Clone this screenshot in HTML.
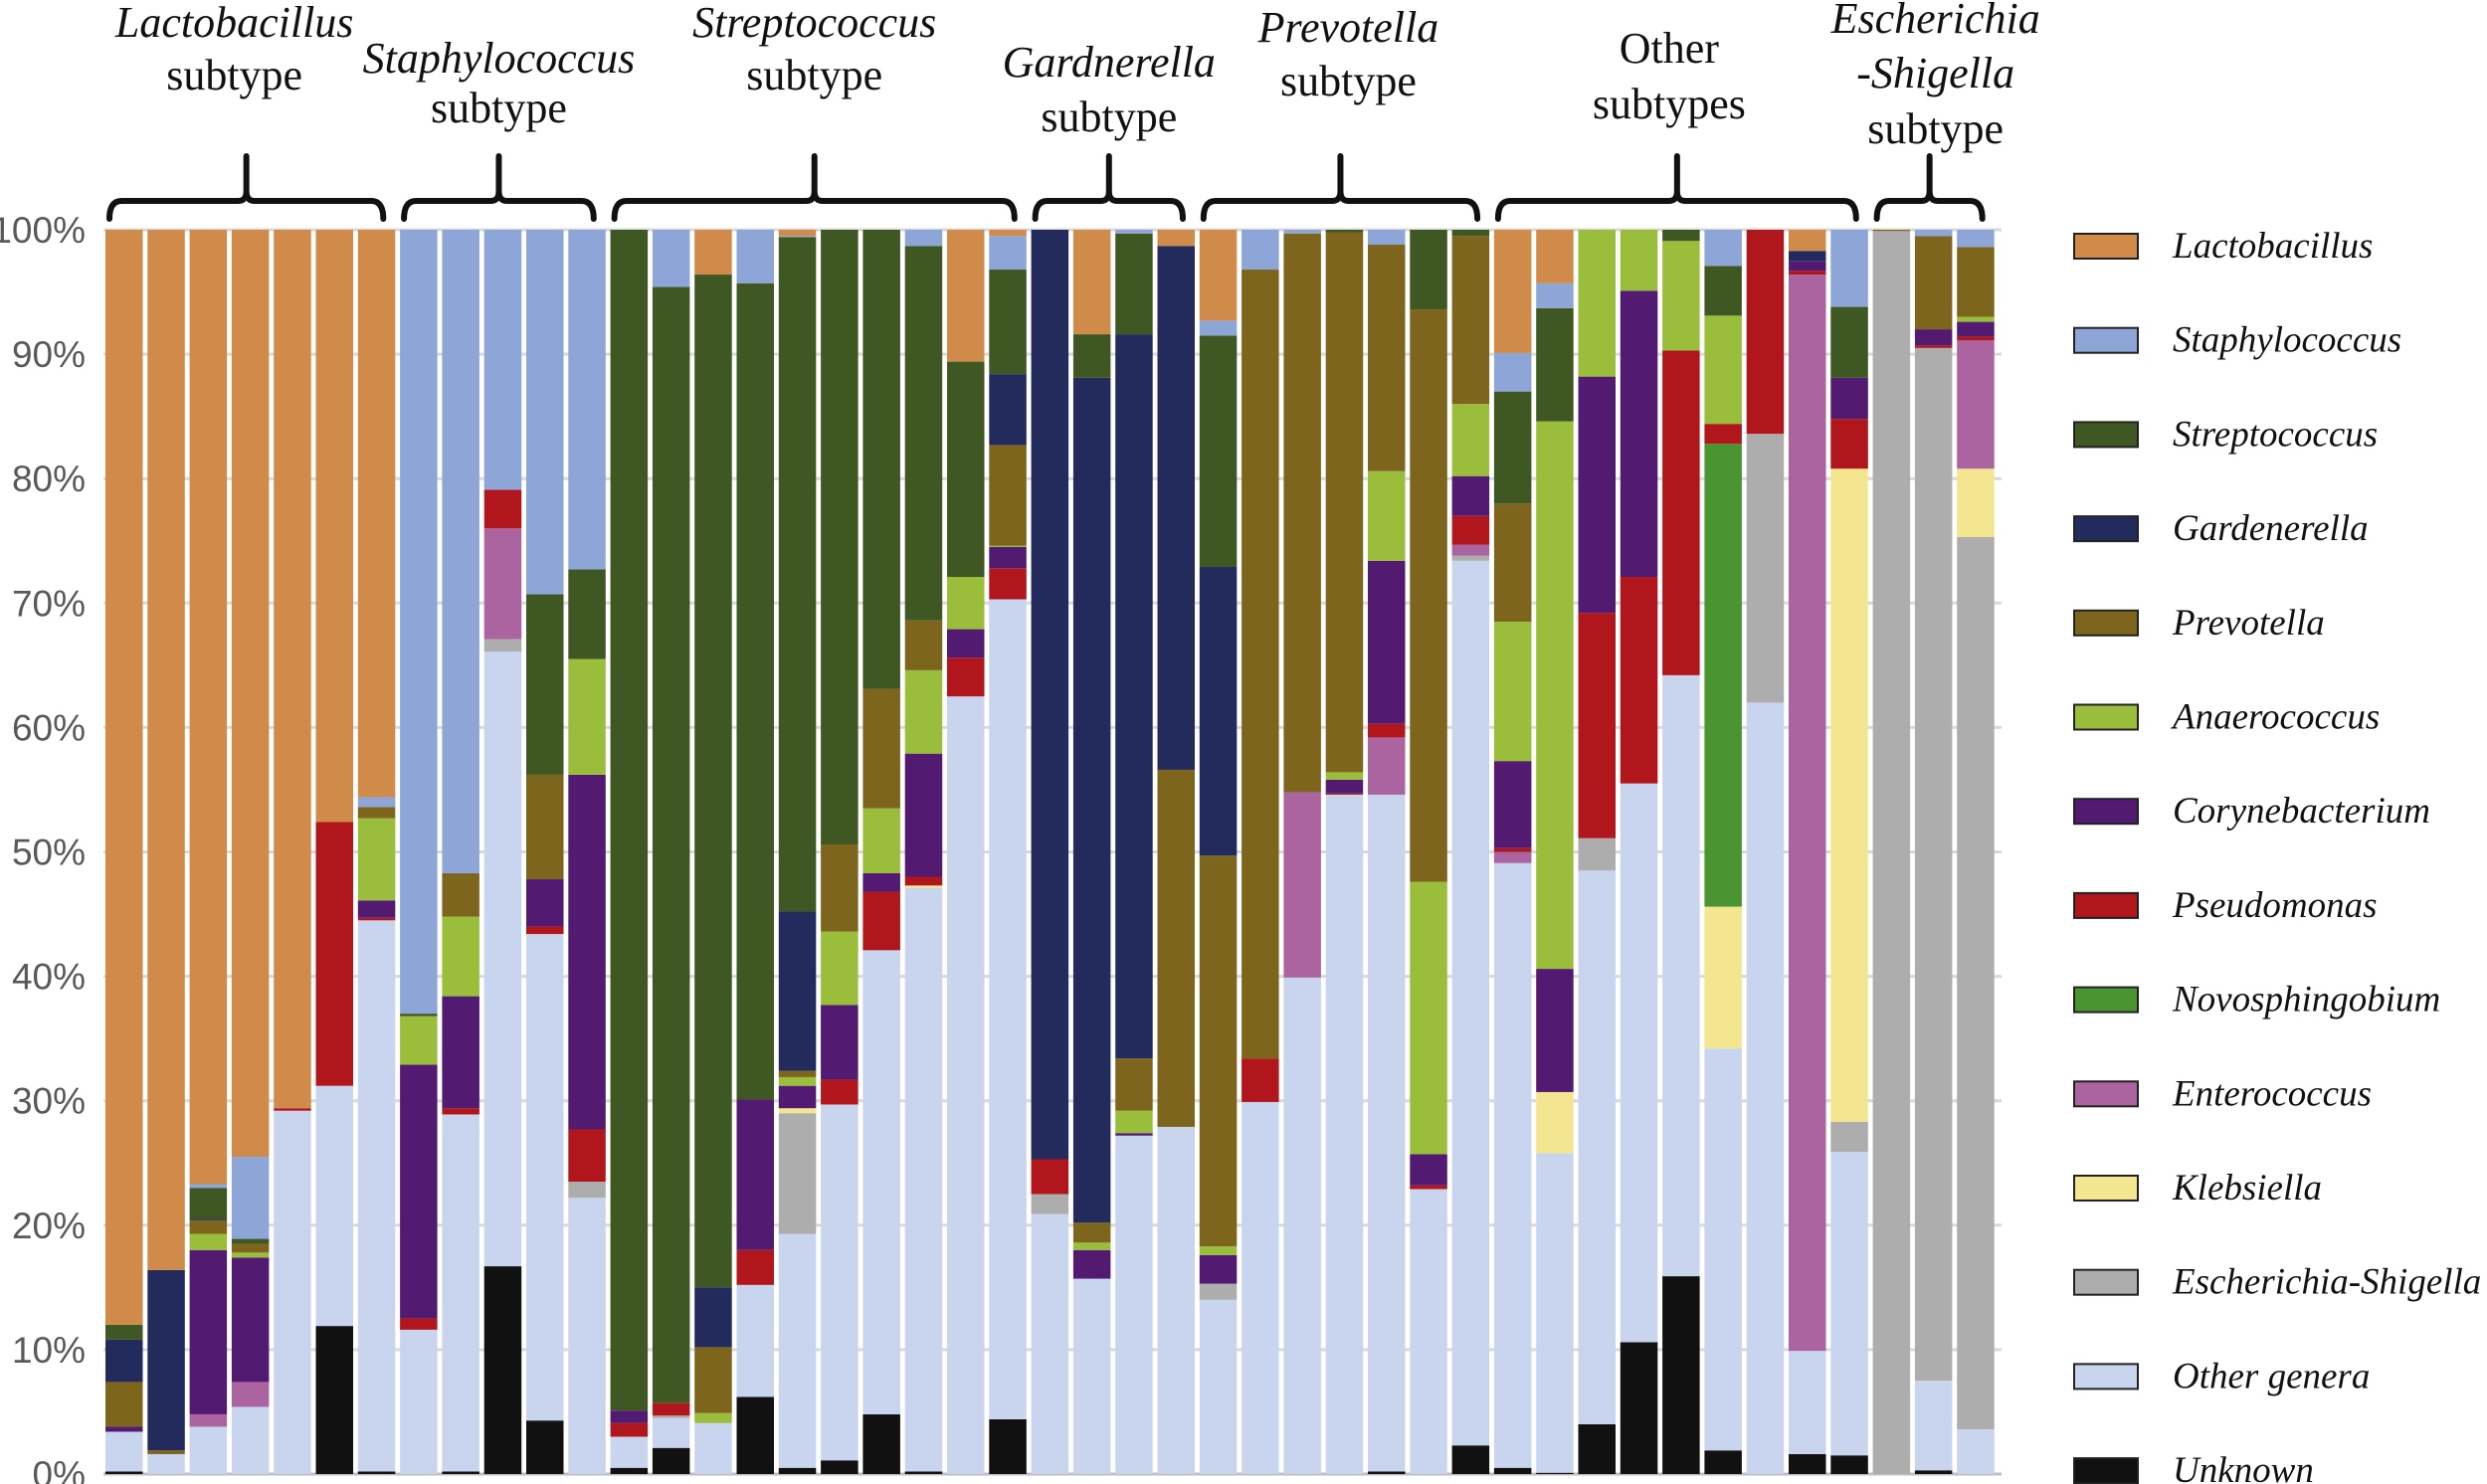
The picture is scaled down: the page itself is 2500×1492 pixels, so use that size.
<!DOCTYPE html>
<html><head><meta charset="utf-8"><style>
html,body{margin:0;padding:0;background:#fff;}
svg{display:block;}
</style></head><body>
<svg id="chart" width="2500" height="1492" xmlns="http://www.w3.org/2000/svg">
<g id="grid"></g>
<g id="yaxis"></g>
<g id="bars"></g>
<g id="groups"></g>
<g id="legend"></g>
</svg>
<script>
const unknownVals=[0.2,0,0,0,0,11.9,0.2,0,0.2,16.7,4.3,0,0.5,2.1,0,6.2,0.5,1.1,4.8,0.2,0,4.4,0,0,0,0,0,0,0,0,0.2,0,2.3,0.5,0.1,4.0,10.6,15.9,1.9,0,1.6,1.5,0,0.3,0];
const otherVals=[3.2,1.6,3.8,5.4,29.2,19.3,44.3,11.6,28.7,49.4,39.1,22.2,2.5,2.4,4.1,9.0,18.8,28.6,37.3,46.9,62.5,65.9,20.9,15.7,27.2,27.9,14.0,29.9,39.9,54.6,54.4,22.9,71.1,48.6,25.7,44.5,44.9,48.3,32.3,62.0,8.3,24.4,0,7.2,3.6];
const eschVals=[0,0,0,0,0,0,0,0,0,1.0,0,1.3,0,0.2,0,0,9.7,0,0,0,0,0,1.6,0,0,0,1.3,0,0,0,0,0,0.4,0,0,2.6,0,0,0,21.6,0,2.4,99.9,83.0,71.7];
const klebVals=[0,0,0,0,0,0,0,0,0,0,0,0,0,0,0,0,0.4,0,0,0.2,0,0,0,0,0,0,0,0,0,0,0,0,0,0,4.9,0,0,0,11.4,0,0,52.5,0,0,5.5];
const enteroVals=[0,0,1.0,2.0,0,0,0,0,0,8.9,0,0,0,0,0,0,0,0,0,0,0,0,0,0,0,0,0,0,14.9,0,4.6,0,0.9,0.9,0,0,0,0,0,0,86.5,0,0,0,10.3];
const novoVals=[0,0,0,0,0,0,0,0,0,0,0,0,0,0,0,0,0,0,0,0,0,0,0,0,0,0,0,0,0,0,0,0,0,0,0,0,0,0,37.2,0,0,0,0,0,0];
const pseudoVals=[0,0,0,0,0.2,21.2,0.2,0.9,0.5,3.1,0.6,4.2,1.1,1.0,0,2.8,0,2.0,4.7,0.7,3.1,2.5,2.8,0,0,0,0,3.5,0,0.1,1.1,0.3,2.3,0.3,0,18.1,16.6,26.1,1.6,16.4,0.3,4.0,0,0.2,0.3];
const corynVals=[0.4,0,13.2,10.0,0,0,1.4,20.4,9.0,0,3.8,28.5,1.0,0,0,12.1,1.8,6.0,1.5,9.9,2.3,1.7,0,2.3,0.2,0,2.3,0,0,1.1,13.1,2.5,3.2,7.0,9.9,19.0,23.0,0,0,0,0.8,3.3,0,1.3,1.2];
const anaeroVals=[0,0,1.3,0.4,0,0,6.6,3.9,6.4,0,0,9.3,0,0,0.8,0,0.7,5.9,5.2,6.7,4.2,0.1,0,0.6,1.8,0,0.7,0,0,0.6,7.2,21.9,5.8,11.2,44.0,11.8,4.9,8.8,8.7,0,0,0,0,0,0.4];
const prevVals=[3.6,0.3,1.1,0.7,0,0,0.9,0,3.5,0,8.4,0,0,0,5.3,0,0.5,7.0,9.6,4.0,0,8.1,0,1.6,4.2,28.7,31.4,63.4,44.9,43.4,18.2,46.0,13.5,9.5,0,0,0,0,0,0,0,0,0.1,7.5,5.6];
const gardVals=[3.4,14.5,0.1,0,0,0,0,0,0,0,0,0,0,0,4.8,0,12.8,0,0,0,0,5.7,74.7,67.9,58.2,42.1,23.2,0,0,0,0,0,0,0,0,0,0,0,0,0,0.8,0,0,0,0];
const strepVals=[1.2,0,2.5,0.4,0,0,0,0.2,0,0,14.5,7.2,94.9,89.7,81.4,65.6,54.2,49.4,36.9,30.1,17.3,8.4,0,3.5,8.1,0,18.6,0,0,0.2,0,6.4,0.5,9.0,9.1,0,0,0.9,4.0,0,0,5.7,0,0,0];
const staphVals=[0,0,0.3,6.6,0,0,0.8,63.0,51.7,20.9,29.3,27.3,0,4.6,0,4.3,0.1,0,0,1.3,0,2.7,0,0,0.3,0,1.2,3.2,0.3,0,1.2,0,0,3.1,2.0,0,0,0,2.9,0,0,6.2,0,0.5,1.4];
const lactoVals=[88.0,83.6,76.7,74.5,70.6,47.6,45.6,0,0,0,0,0,0,0,3.6,0,0.5,0,0,0,10.6,0.5,0,8.4,0,1.3,7.3,0,0,0,0,0,0,9.9,4.3,0,0,0,0,0,1.7,0,0,0,0];
const seriesNames=["Unknown","Other genera","Escherichia-Shigella","Klebsiella","Enterococcus","Novosphingobium","Pseudomonas","Corynebacterium","Anaerococcus","Prevotella","Gardenerella","Streptococcus","Staphylococcus","Lactobacillus"];
const seriesColors=["#111111","#C9D5EE","#ADADAD","#F4E590","#AC64A0","#4B9432","#B0161B","#521A71","#9BBD3C","#7E651E","#232A5C","#3F5722","#8EA5D8","#D08B4A"];
const seriesData=[unknownVals,otherVals,eschVals,klebVals,enteroVals,novoVals,pseudoVals,corynVals,anaeroVals,prevVals,gardVals,strepVals,staphVals,lactoVals];
const yTicks=[0,10,20,30,40,50,60,70,80,90,100];
const groupLabels=[["Lactobacillus","subtype"],["Staphylococcus","subtype"],["Streptococcus","subtype"],["Gardnerella","subtype"],["Prevotella","subtype"],["Other","subtypes"],["Escherichia","-Shigella","subtype"]];
const groupSizes=[7,5,10,4,7,9,3];
const groupItalic=[[1,0],[1,0],[1,0],[1,0],[1,0],[0,0],[1,1,0]];

const NS="http://www.w3.org/2000/svg";
const X0=106, PITCH=42.3, BW=37.5, Y0=1482, Y100=231, PLOT_R=2012;
function yScale(v){return Y0-(Y0-Y100)*v/100;}
function xScale(i){return X0+i*PITCH;}
function mk(tag,attrs,parent){const e=document.createElementNS(NS,tag);for(const k in attrs)e.setAttribute(k,attrs[k]);parent.appendChild(e);return e;}

const grid=document.getElementById('grid'), yaxis=document.getElementById('yaxis');
yTicks.forEach(t=>{
  const l=mk('line',{x1:104,x2:PLOT_R,y1:yScale(t),y2:yScale(t),stroke:t===0?'#bfbfbf':'#d9d9d9','stroke-width':3},grid);
  
  
  const tx=mk('text',{x:86,y:yScale(t)+13,'text-anchor':'end','font-family':'Liberation Sans, sans-serif','font-size':37,fill:'#595959'},yaxis);
  tx.textContent=t+'%';
  
  
});

const bars=document.getElementById('bars');
const nBars=otherVals.length;
for(let i=0;i<nBars;i++){
  const g=mk('g',{},bars);
  
  
  let cum=0;
  for(let s=0;s<seriesData.length;s++){
    const v=seriesData[s][i];
    if(!v)continue;
    const yTop=yScale(cum+v), yBot=yScale(cum);
    const r=mk('rect',{x:xScale(i),y:yTop,width:BW,height:Math.max(0,yBot-yTop),fill:seriesColors[s]},g);
    
    
    cum+=v;
  }
}

const groups=document.getElementById('groups');
let start=0;
const lineTops=[[22,75],[58,108],[22,75],[62,117],[27,81],[48,104],[18,73,129]];
const labelShift=[-12,0,0,0,8,-8,6];
groupSizes.forEach((n,gi)=>{
  const x1=xScale(start)+4, x2=xScale(start+n-1)+BW-12, xc=(x1+x2)/2, yb=202;
  const g=mk('g',{},groups);
  
  
  mk('path',{d:`M${x1},${yb+18} Q${x1},${yb} ${x1+12},${yb} H${xc-8} Q${xc},${yb} ${xc},${yb-10} V${yb-45} M${xc},${yb-10} Q${xc},${yb} ${xc+8},${yb} H${x2-12} Q${x2},${yb} ${x2},${yb+18}`,fill:'none',stroke:'#111','stroke-width':6,'stroke-linecap':'round'},g);
  groupLabels[gi].forEach((txt,li)=>{
    const t=mk('text',{x:xc+labelShift[gi],y:lineTops[gi][li]+15,'text-anchor':'middle','font-family':'Liberation Serif, serif','font-size':44,fill:'#111','font-style':groupItalic[gi][li]?'italic':'normal'},g);
    t.textContent=txt;
    
    
  });
  start+=n;
});

const legend=document.getElementById('legend');
const legendOrder=[13,12,11,10,9,8,7,6,5,4,3,2,1,0];
legendOrder.forEach((s,k)=>{
  const cy=247+k*94.7;
  const g=mk('g',{},legend);
  
  
  mk('rect',{x:2085,y:cy-12,width:64,height:25,fill:seriesColors[s],stroke:'#222','stroke-width':2},g);
  const t=mk('text',{x:2184,y:cy+12,'font-family':'Liberation Serif, serif','font-size':37,'font-style':'italic',fill:'#111'},g);
  t.textContent=seriesNames[s];
});
</script>
</body></html>
